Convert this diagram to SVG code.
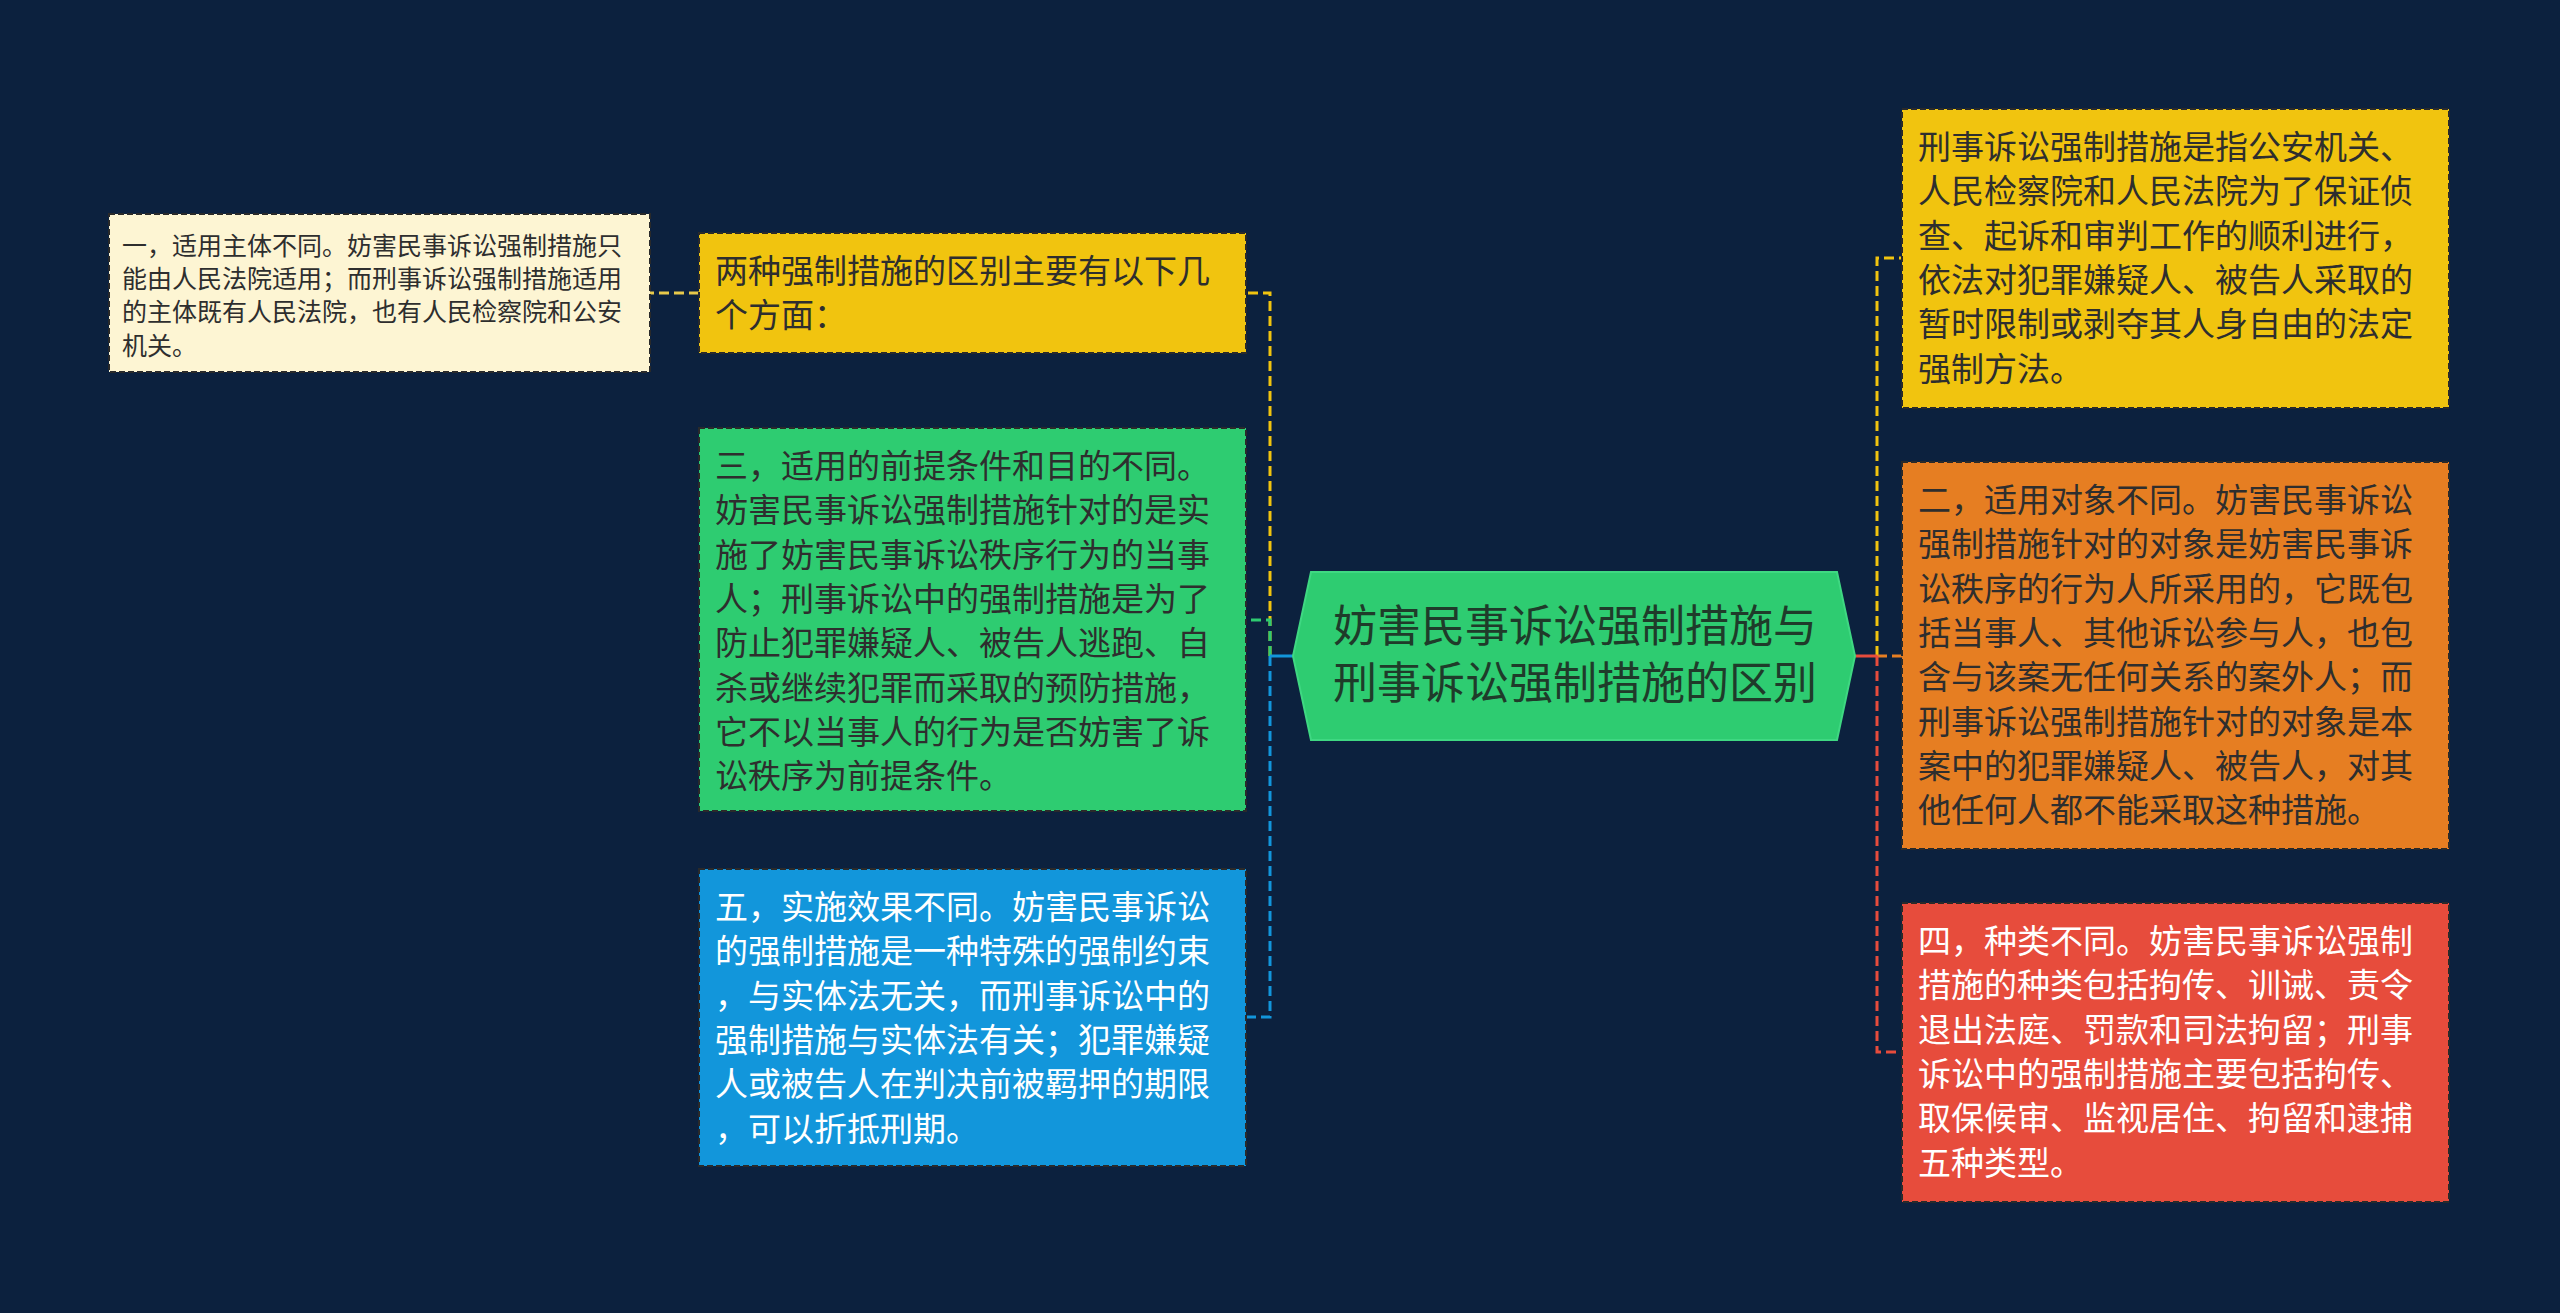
<svg xmlns="http://www.w3.org/2000/svg" width="2560" height="1313" viewBox="0 0 2560 1313">
<style>
text{font-family:"Noto Sans CJK SC","Noto Sans",sans-serif;}
.t{font-size:33px;}
.s{font-size:25px;}
.c{font-size:44px;text-anchor:middle;fill:#1f3b2a;}
.dk{fill:#2e2e2e;}
.wt{fill:#ffffff;}
.box{stroke:#2a2a2a;stroke-width:2;stroke-dasharray:6 3;}
.ln{fill:none;stroke-width:3;stroke-dasharray:10 5;}
</style>
<rect x="0" y="0" width="2560" height="1313" fill="#0c213e"/>
<g id="connectors">
<path class="ln" d="M1270 656 V293 H1246" stroke="#f1c40f"/>
<path class="ln" d="M1270 656 V620 H1246" stroke="#2ecc71"/>
<path class="ln" d="M1270 656 V1017 H1246" stroke="#1296db"/>
<path d="M1270 656 H1295" stroke="#1296db" stroke-width="3" fill="none"/>
<path class="ln" d="M699 293 H650" stroke="#e8c94a"/>
<path class="ln" d="M1877 656 V258 H1902" stroke="#f1c40f"/>
<path class="ln" d="M1877 656 H1902" stroke="#e67e22"/>
<path class="ln" d="M1877 656 V1052 H1902" stroke="#e74c3c"/>
<path d="M1853 656 H1877" stroke="#e74c3c" stroke-width="3" fill="none"/>
</g>
<g id="center">
<polygon points="1293,656 1311,572 1837,572 1855,656 1837,740 1311,740" fill="#2ecc71" stroke="#3fd882" stroke-width="2"/>
<text class="c" x="1575" y="642">妨害民事诉讼强制措施与<tspan x="1575" y="699">刑事诉讼强制措施的区别</tspan></text>
</g>
<g id="n-cream">
<rect class="box" x="109" y="214" width="541" height="158" fill="#fdf5d3"/>
<text class="s dk" x="122" y="255">一，适用主体不同。妨害民事诉讼强制措施只</text>
<text class="s dk" x="122" y="288">能由人民法院适用；而刑事诉讼强制措施适用</text>
<text class="s dk" x="122" y="321">的主体既有人民法院，也有人民检察院和公安</text>
<text class="s dk" x="122" y="355">机关。</text>
</g>
<g id="n-yellow-left">
<rect class="box" x="699" y="233" width="547" height="120" fill="#f1c40f"/>
<text class="t dk" x="715" y="283">两种强制措施的区别主要有以下几</text>
<text class="t dk" x="715" y="327">个方面：</text>
</g>
<g id="n-green">
<rect class="box" x="699" y="428" width="547" height="383" fill="#2ecc71"/>
<text class="t dk" x="715" y="478">三，适用的前提条件和目的不同。</text>
<text class="t dk" x="715" y="522">妨害民事诉讼强制措施针对的是实</text>
<text class="t dk" x="715" y="567">施了妨害民事诉讼秩序行为的当事</text>
<text class="t dk" x="715" y="611">人；刑事诉讼中的强制措施是为了</text>
<text class="t dk" x="715" y="655">防止犯罪嫌疑人、被告人逃跑、自</text>
<text class="t dk" x="715" y="700">杀或继续犯罪而采取的预防措施，</text>
<text class="t dk" x="715" y="744">它不以当事人的行为是否妨害了诉</text>
<text class="t dk" x="715" y="788">讼秩序为前提条件。</text>
</g>
<g id="n-blue">
<rect class="box" x="699" y="869" width="547" height="297" fill="#1296db"/>
<text class="t wt" x="715" y="919">五，实施效果不同。妨害民事诉讼</text>
<text class="t wt" x="715" y="963">的强制措施是一种特殊的强制约束</text>
<text class="t wt" x="715" y="1008">，与实体法无关，而刑事诉讼中的</text>
<text class="t wt" x="715" y="1052">强制措施与实体法有关；犯罪嫌疑</text>
<text class="t wt" x="715" y="1096">人或被告人在判决前被羁押的期限</text>
<text class="t wt" x="715" y="1141">，可以折抵刑期。</text>
</g>
<g id="n-yellow-right">
<rect class="box" x="1902" y="109" width="547" height="299" fill="#f1c40f"/>
<text class="t dk" x="1918" y="159">刑事诉讼强制措施是指公安机关、</text>
<text class="t dk" x="1918" y="203">人民检察院和人民法院为了保证侦</text>
<text class="t dk" x="1918" y="248">查、起诉和审判工作的顺利进行，</text>
<text class="t dk" x="1918" y="292">依法对犯罪嫌疑人、被告人采取的</text>
<text class="t dk" x="1918" y="336">暂时限制或剥夺其人身自由的法定</text>
<text class="t dk" x="1918" y="381">强制方法。</text>
</g>
<g id="n-orange">
<rect class="box" x="1902" y="462" width="547" height="387" fill="#e67e22"/>
<text class="t dk" x="1918" y="512">二，适用对象不同。妨害民事诉讼</text>
<text class="t dk" x="1918" y="556">强制措施针对的对象是妨害民事诉</text>
<text class="t dk" x="1918" y="601">讼秩序的行为人所采用的，它既包</text>
<text class="t dk" x="1918" y="645">括当事人、其他诉讼参与人，也包</text>
<text class="t dk" x="1918" y="689">含与该案无任何关系的案外人；而</text>
<text class="t dk" x="1918" y="734">刑事诉讼强制措施针对的对象是本</text>
<text class="t dk" x="1918" y="778">案中的犯罪嫌疑人、被告人，对其</text>
<text class="t dk" x="1918" y="822">他任何人都不能采取这种措施。</text>
</g>
<g id="n-red">
<rect class="box" x="1902" y="903" width="547" height="299" fill="#e74c3c"/>
<text class="t wt" x="1918" y="953">四，种类不同。妨害民事诉讼强制</text>
<text class="t wt" x="1918" y="997">措施的种类包括拘传、训诫、责令</text>
<text class="t wt" x="1918" y="1042">退出法庭、罚款和司法拘留；刑事</text>
<text class="t wt" x="1918" y="1086">诉讼中的强制措施主要包括拘传、</text>
<text class="t wt" x="1918" y="1130">取保候审、监视居住、拘留和逮捕</text>
<text class="t wt" x="1918" y="1175">五种类型。</text>
</g>
</svg>
